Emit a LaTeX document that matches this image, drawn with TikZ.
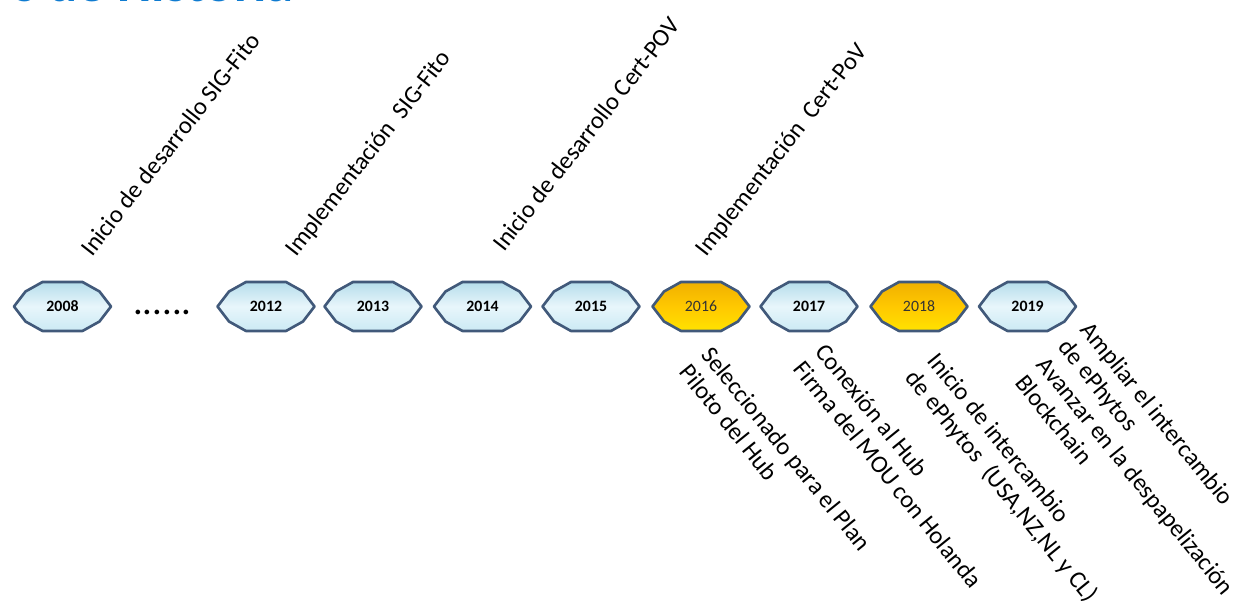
\documentclass[tikz,border=0pt]{standalone}
\usepackage{fontspec}
\setmainfont{Carlito}
\usetikzlibrary{positioning}

\definecolor{rim}{HTML}{41597A}
\definecolor{skytop}{HTML}{B5DDEB}
\definecolor{skymid}{HTML}{E8F6FB}
\definecolor{skybot}{HTML}{CBEAF4}
\definecolor{goldtop}{HTML}{F0B000}
\definecolor{goldmid}{HTML}{FFC800}
\definecolor{goldbot}{HTML}{FFE200}
\definecolor{titleblue}{HTML}{0F7BD0}

\tikzset{
    yrsky/.style={draw=rim, line width=1.5pt, line join=round,
        top color=skytop, bottom color=skybot, middle color=skymid},
    yrgold/.style={draw=rim, line width=1.5pt, line join=round,
        top color=goldtop, bottom color=goldbot, middle color=goldmid},
    yrskytext/.style={font=\fontsize{9}{11}\selectfont\bfseries},
    yrgoldtext/.style={font=\fontsize{9}{11}\selectfont, text=black!80},
    uplabel/.style={rotate=52, anchor=base west, inner sep=0pt,
        font=\fontsize{14}{16}\selectfont},
    downlabel/.style={rotate=-51, anchor=north west, inner sep=0pt, align=left,
        font=\fontsize{14}{16}\selectfont}
}

\begin{document}
\begin{tikzpicture}
        \useasboundingbox (0,0) rectangle (24.78,12.16);

        % title, cut by the top edge
        \node[anchor=base east, inner sep=0pt, text=titleblue,
            font=\fontsize{31}{34}\selectfont\bfseries] (title) at (5.88,12.12) {s de Historia};

        % year boxes
        \foreach \px/\yr/\tone in {1.25/2008/sky, 5.32/2012/sky, 7.46/2013/sky, 9.65/2014/sky,
                11.82/2015/sky, 14.02/2016/gold, 16.18/2017/sky, 18.38/2018/gold, 20.55/2019/sky} {
            \draw[yr\tone] (\px,6.03) ++(-0.97,0) -- ++(0.23,0.3) -- ++(0.34,0.19) -- ++(0.8,0)
                -- ++(0.34,-0.19) -- ++(0.23,-0.3) -- ++(-0.23,-0.3) -- ++(-0.34,-0.19)
                -- ++(-0.8,0) -- ++(-0.34,0.19) -- cycle;
            \node[yr\tone text] (y\yr) at (\px,6.03) {\yr};
        }
        \node[anchor=base, inner sep=0pt, font=\fontsize{22}{24}\selectfont] (gap) at (3.25,5.86) {......};

        % milestones above
        \node[uplabel] (sigdev) at (1.84,7.0) {Inicio de desarrollo SIG-Fito};
        \node[uplabel] (sigimp) at (5.92,7.0) {Implementación~ SIG-Fito};
        \node[uplabel] (certdev) at (10.08,7.1) {Inicio de desarrollo Cert-POV};
        \node[uplabel] (certimp) at (14.12,7.0) {Implementación~ Cert-PoV};

        % milestones below
        \node[downlabel] (pilot) at (14.27,5.28) {Seleccionado para el Plan\\Piloto del Hub};
        \node[downlabel] (hub) at (16.56,5.34) {Conexión al Hub\\Firma del MOU con Holanda};
        \node[downlabel] (swap) at (18.8,5.16) {Inicio de intercambio\\de ePhytos~ (USA,NZ,NL y CL)};
        \node[downlabel] (plans) at (21.86,5.78) {Ampliar el intercambio\\de ePhytos\\Avanzar en la despapelización\\Blockchain};
\end{tikzpicture}
\end{document}
